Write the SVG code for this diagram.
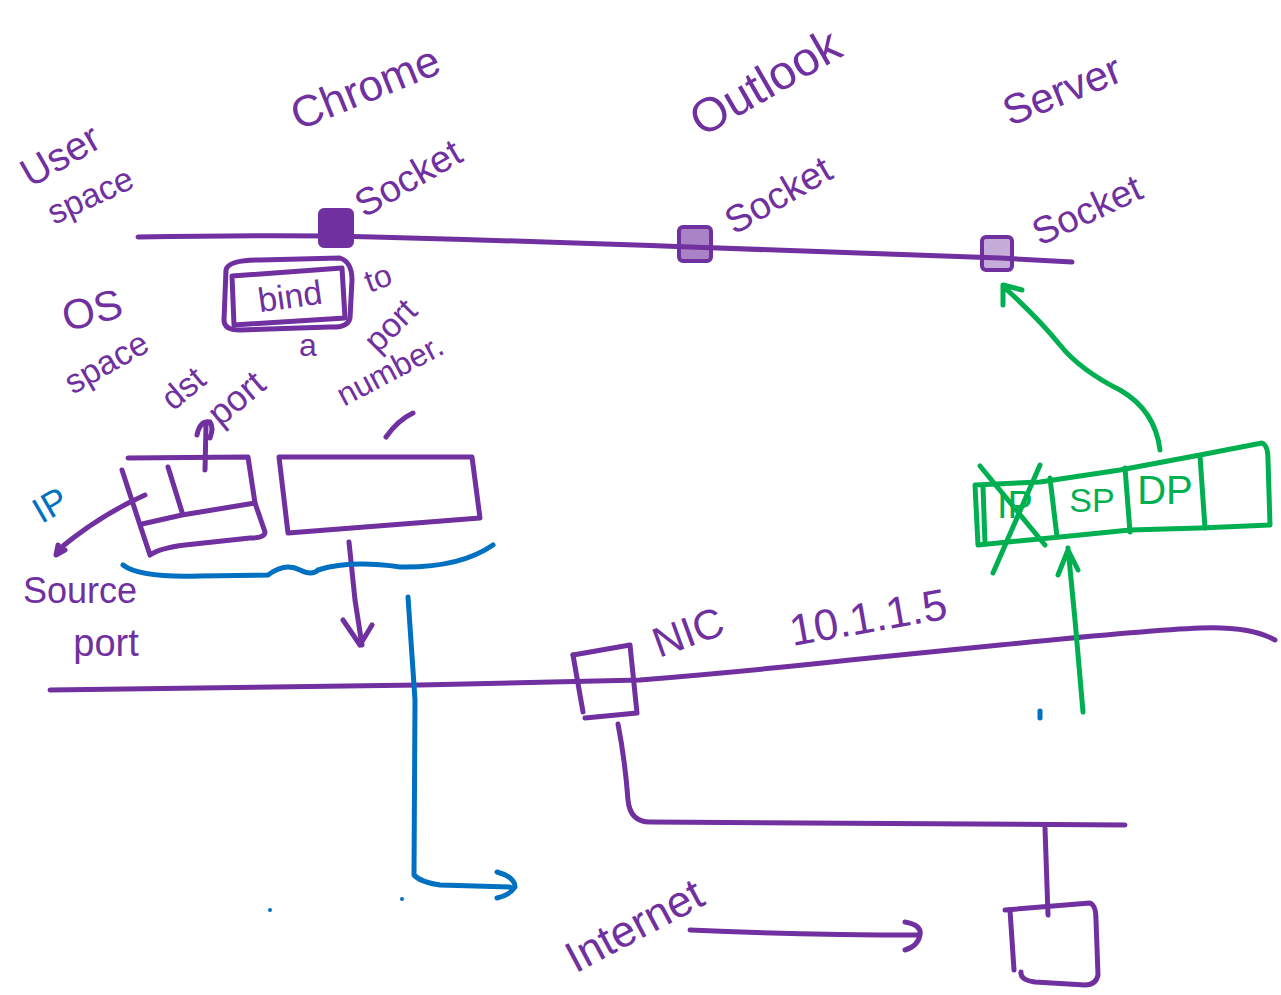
<svg xmlns="http://www.w3.org/2000/svg" width="1281" height="995" viewBox="0 0 1281 995">
<defs>
<style>
.p{fill:none;stroke:#7030A0;stroke-width:5;stroke-linecap:round;stroke-linejoin:round}
.b{fill:none;stroke:#0070C0;stroke-width:5;stroke-linecap:round;stroke-linejoin:round}
.g{fill:none;stroke:#00B050;stroke-width:5;stroke-linecap:round;stroke-linejoin:round}
text{font-family:"Liberation Sans","DejaVu Sans",sans-serif;text-anchor:middle;dominant-baseline:central}
.tp{fill:#7030A0}
.tb{fill:#0070C0}
.tg{fill:#00B050}
</style>
</defs>
<rect width="1281" height="995" fill="#ffffff"/>

<g id="labels-user">
<text class="tp" font-size="40" transform="translate(60,155) rotate(-30)">User</text>
<text class="tp" font-size="34" transform="translate(90,195) rotate(-25)">space</text>
<text class="tp" font-size="42" transform="translate(92,310) rotate(-15)">OS</text>
<text class="tp" font-size="34" transform="translate(106,362) rotate(-30)">space</text>
</g>

<g id="chrome">
<text class="tp" font-size="44" transform="translate(365,87) rotate(-22)">Chrome</text>
<rect x="320" y="210" width="32" height="36" rx="4" fill="#7030A0" stroke="#7030A0" stroke-width="4"/>
<text class="tp" font-size="38" transform="translate(408,178) rotate(-30)">Socket</text>
</g>

<g id="outlook">
<text class="tp" font-size="48" transform="translate(765,82) rotate(-30)">Outlook</text>
<rect x="679" y="227" width="32" height="34" rx="4" fill="#7030A0" fill-opacity="0.6" stroke="#7030A0" stroke-width="4"/>
<text class="tp" font-size="38" transform="translate(778,195) rotate(-30)">Socket</text>
</g>

<g id="server">
<text class="tp" font-size="42" transform="translate(1062,90) rotate(-22)">Server</text>
<rect x="982" y="237" width="30" height="33" rx="4" fill="#7030A0" fill-opacity="0.4" stroke="#7030A0" stroke-width="4"/>
<text class="tp" font-size="38" transform="translate(1087,210) rotate(-25)">Socket</text>
</g>

<g id="bind">
<path class="p" d="M226,270 Q228,260 260,260 L340,258 Q352,262 352,280 L350,318 Q348,328 330,327 L240,330 Q224,330 224,320 Z"/>
<path class="p" d="M232,276 L342,268 L345,318 L234,325 Z"/>
<text class="tp" font-size="34" transform="translate(290,296) rotate(-8)">bind</text>
<text class="tp" font-size="32" transform="translate(378,278) rotate(-20)">to</text>
<text class="tp" font-size="32" transform="translate(308,345)">a</text>
<text class="tp" font-size="34" transform="translate(390,325) rotate(-45)">port</text>
<text class="tp" font-size="32" transform="translate(390,370) rotate(-28)">number.</text>
</g>

<g id="dst-port">
<text class="tp" font-size="34" transform="translate(183,388) rotate(-40)">dst</text>
<text class="tp" font-size="36" transform="translate(236,398) rotate(-40)">port</text>
</g>

<g id="packet-left">
<path class="p" d="M128,458 L248,457 L255,503 L265,532 Q265,538 250,538 L185,545 Q160,548 150,555 L140,525 L122,470"/>
<path class="p" d="M168,467 L182,512"/>
<path class="p" d="M142,524 L182,515 L255,503"/>
</g>

<g id="packet-mid">
<path class="p" d="M279,457 L472,457 L480,518 L288,533 Z"/>
</g>

<g id="ip-source">
<text class="tb" font-size="36" transform="translate(50,505) rotate(-30)">IP</text>
<text class="tp" font-size="36" transform="translate(80,590)">Source</text>
<text class="tp" font-size="38" transform="translate(106,643)">port</text>
</g>

<g id="nic">
<path class="p" d="M573,655 L630,645 L637,713 L585,718"/>
<path class="p" d="M573,655 L583,712"/>
<text class="tp" font-size="42" transform="translate(688,632) rotate(-20)">NIC</text>
<text class="tp" font-size="44" transform="translate(868,617) rotate(-10)">10.1.1.5</text>
</g>

<g id="remote">
<path class="p" d="M1005,910 L1090,903 Q1096,905 1096,920 L1098,975 Q1096,985 1085,985 L1035,982 Q1020,980 1021,972"/>
<path class="p" d="M1010,910 L1014,970"/>
</g>

<g id="internet">
<text class="tp" font-size="44" transform="translate(634,925) rotate(-28)">Internet</text>
</g>

<g id="green-packet">
<path class="g" d="M975,485 L1040,482 L1120,470 L1200,455 L1262,443 Q1268,445 1268,460 L1270,525 L1200,528 L1130,530 L1060,537 L978,545 Z"/>
<path class="g" d="M1050,478 L1057,537"/>
<path class="g" d="M1125,468 L1130,532"/>
<path class="g" d="M1200,456 L1205,528"/>
<path class="g" d="M983,487 L985,543"/>
<text class="tg" font-size="38" transform="translate(1015,505)">IP</text>
<path class="g" d="M980,466 L1045,545"/>
<path class="g" d="M1040,465 L993,573"/>
<text class="tg" font-size="34" transform="translate(1092,500)">SP</text>
<text class="tg" font-size="40" transform="translate(1165,490)">DP</text>
</g>

<g id="connectors">
<path class="p" d="M138,237 Q250,235 330,236 Q500,240 690,247 Q850,252 1000,258 L1072,262"/>
<path class="p" d="M50,690 Q250,688 420,685 L640,680 Q760,670 850,660 L1000,645 Q1150,630 1200,628 Q1250,626 1275,640"/>
<path class="p" d="M205,470 L206,425 M197,435 Q200,420 210,422 Q214,428 210,438"/>
<path class="p" d="M386,437 Q398,420 413,413"/>
<path class="p" d="M145,495 Q100,515 58,550 M58,545 L56,555 L65,550"/>
<path class="p" d="M349,542 L355,600 L362,645 M343,620 L360,645 L372,625"/>
<path class="b" d="M123,565 Q140,578 200,576 L268,575 Q285,562 300,570 Q312,576 318,570 Q350,560 400,567 Q460,568 493,545"/>
<path class="b" d="M408,597 L415,700 L414,875 Q420,882 440,885 L510,887 M497,872 Q515,877 515,887 Q510,895 497,898"/>
<circle cx="270" cy="910" r="2" fill="#0070C0"/>
<circle cx="402" cy="899" r="2" fill="#0070C0"/>
<path class="b" d="M1040,711 L1040,718"/>
<path class="p" d="M618,724 Q625,760 628,800 Q630,822 650,822 L1125,825"/>
<path class="p" d="M1045,828 L1048,915"/>
<path class="p" d="M690,930 Q800,935 920,935 M905,922 Q922,925 920,935 Q918,946 905,950"/>
<path class="g" d="M1083,712 L1075,620 L1068,548 M1058,575 L1068,550 L1078,570"/>
<path class="g" d="M1160,450 Q1155,410 1120,390 Q1080,370 1060,345 Q1040,320 1005,288 M1003,305 L1003,285 L1022,290"/>
</g>
</svg>
